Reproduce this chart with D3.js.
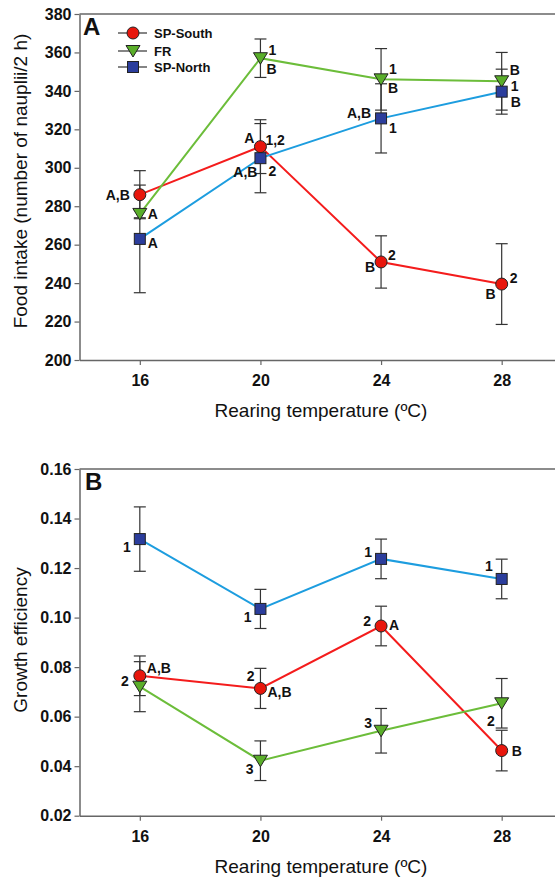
<!DOCTYPE html>
<html>
<head>
<meta charset="utf-8">
<script src="https://cdn.jsdelivr.net/npm/d3@7"></script>
<style>
  body { margin: 0; background: #fff; }
  svg { display: block; font-family: "Liberation Sans", Arial, sans-serif; }
</style>
</head>
<body>
<div id="chart"></div>
<script>
// Data
const temps = [16, 20, 24, 28];
const seriesNames = ["SP-South", "FR", "SP-North"];

// Panel A: food intake (number of nauplii / 2 h)
const intakeSouth   = [286, 311, 251, 239.5];
const intakeSouthSE = [12.5, 14, 13.6, 21];
const intakeFR      = [276, 357, 346, 345];
const intakeFRSE    = [2, 10, 16, 15];
const intakeNorth   = [263, 305, 325.7, 339.6];
const intakeNorthSE = [28, 18, 18, 11.7];
const intakeTicks   = [200, 220, 240, 260, 280, 300, 320, 340, 360, 380];

// Panel B: growth efficiency
const growthSouth   = [0.0765, 0.0714, 0.0966, 0.0463];
const growthSouthSE = [0.008, 0.0081, 0.008, 0.0082];
const growthFR      = [0.0721, 0.0422, 0.0543, 0.0654];
const growthFRSE    = [0.0101, 0.008, 0.009, 0.01];
const growthNorth   = [0.1317, 0.1035, 0.1237, 0.1156];
const growthNorthSE = [0.013, 0.0079, 0.008, 0.008];
const growthTicks   = [0.02, 0.04, 0.06, 0.08, 0.10, 0.12, 0.14, 0.16];

// significance letters: [series, temperature, text]
const notesA = [
  [0, 16, "A,B"], [1, 16, "A"], [2, 16, "A"],
  [0, 20, "A"], [0, 20, "1,2"], [1, 20, "1"], [1, 20, "B"], [2, 20, "A,B"], [2, 20, "2"],
  [1, 24, "1"], [1, 24, "B"], [2, 24, "A,B"], [2, 24, "1"], [0, 24, "2"], [0, 24, "B"],
  [1, 28, "B"], [1, 28, "1"], [2, 28, "B"], [0, 28, "2"], [0, 28, "B"]
];
const notesB = [
  [2, 16, "1"], [2, 20, "1"], [2, 24, "1"], [2, 28, "1"],
  [0, 16, "A,B"], [1, 16, "2"], [0, 20, "2"], [0, 20, "A,B"], [1, 20, "3"],
  [0, 24, "2"], [0, 24, "A"], [1, 24, "3"], [1, 28, "2"], [0, 28, "B"]
];

// label placement (anchor, dx, dy), same order as the notes
const placeA = [
  ["end", -10, 5], ["start", 8, 5], ["start", 8, 9],
  ["end", -6, -4], ["start", 5, -2], ["start", 8, -3], ["start", 6, 16], ["end", -3, 19], ["start", 8, 18],
  ["start", 8, -5], ["start", 7, 14], ["end", -10, 0], ["start", 8, 15], ["start", 7, -2], ["end", -6, 10],
  ["start", 8, -6], ["start", 9, 10], ["start", 9, 15], ["start", 8, -1], ["end", -6, 15]
];
const placeB = [
  ["end", -9, 13], ["end", -9, 13], ["end", -9, -2], ["end", -9, -8],
  ["start", 7, -3], ["end", -11, -1], ["end", -6, -7], ["start", 7, 9], ["end", -7, 13],
  ["end", -10, 0], ["start", 8, 4], ["end", -9, -3], ["end", -7, 23], ["start", 10, 5]
];

const lineColors = ["#f41c1c", "#6cbd3a", "#1d9ddf"];
const fillColors = ["#e8160c", "#5aae2a", "#2b3d9c"];
const W = 555, H = 877;

const svg = d3.select("#chart").append("svg")
  .attr("width", W).attr("height", H);

function marker(g, kind, x, y) {
  if (kind === 0) {
    g.append("circle").attr("cx", x).attr("cy", y).attr("r", 6)
      .attr("fill", fillColors[0]).attr("stroke", "#222").attr("stroke-width", 1);
  } else if (kind === 1) {
    g.append("path")
      .attr("d", `M${x - 7},${y - 5.5}L${x + 7},${y - 5.5}L${x},${y + 6}Z`)
      .attr("fill", fillColors[1]).attr("stroke", "#222").attr("stroke-width", 1);
  } else {
    g.append("rect").attr("x", x - 5.5).attr("y", y - 5.5).attr("width", 11).attr("height", 11)
      .attr("fill", fillColors[2]).attr("stroke", "#222").attr("stroke-width", 1);
  }
}

function panel(opts) {
  const x = d3.scaleLinear().domain([14, 30]).range([79.5, 562]);
  const y = d3.scaleLinear().domain(opts.domain).range([opts.bottom, opts.top]);
  const g = svg.append("g");

  // top frame line
  g.append("line").attr("x1", 79.5).attr("x2", W).attr("y1", opts.top).attr("y2", opts.top)
    .attr("stroke", "#666").attr("stroke-width", 1.5);

  const xAxis = g.append("g").attr("transform", `translate(0,${opts.bottom})`)
    .call(d3.axisBottom(x).tickValues(temps).tickSize(5).tickSizeOuter(0).tickPadding(10));
  const yAxis = g.append("g").attr("transform", "translate(79.5,0)")
    .call(d3.axisLeft(y).tickValues(opts.ticks).tickFormat(opts.fmt).tickSize(5).tickSizeOuter(0).tickPadding(3));
  [xAxis, yAxis].forEach(a => {
    a.select(".domain").attr("stroke", "#666").attr("stroke-width", 1.5);
    a.selectAll(".tick line").attr("stroke", "#666").attr("stroke-width", 1.2);
    a.selectAll("text").attr("fill", "#111").attr("font-size", 16).attr("font-weight", "bold")
      .attr("font-family", "Liberation Sans, Arial, sans-serif");
  });

  g.append("text").attr("x", 321).attr("y", opts.bottom + 57).attr("text-anchor", "middle")
    .attr("font-size", 19).attr("fill", "#111").text("Rearing temperature (ºC)");
  g.append("text").attr("transform", `translate(27,${opts.titleY}) rotate(-90)`)
    .attr("text-anchor", "middle").attr("font-size", 19).attr("fill", "#111").text(opts.title);

  g.append("text").attr("x", opts.letterX).attr("y", opts.top + 21)
    .attr("font-size", 24).attr("font-weight", "bold").attr("fill", "#111").text(opts.letter);

  // error bars
  opts.series.forEach((s) => {
    s.v.forEach((v, i) => {
      const cx = x(temps[i]), y0 = y(v - s.se[i]), y1 = y(v + s.se[i]);
      const eb = g.append("g").attr("stroke", "#333").attr("stroke-width", 1.2);
      eb.append("line").attr("x1", cx).attr("x2", cx).attr("y1", y0).attr("y2", y1);
      eb.append("line").attr("x1", cx - 6).attr("x2", cx + 6).attr("y1", y0).attr("y2", y0);
      eb.append("line").attr("x1", cx - 6).attr("x2", cx + 6).attr("y1", y1).attr("y2", y1);
    });
  });

  const line = d3.line().x((d, i) => x(temps[i])).y(d => y(d));
  opts.series.forEach((s, k) => {
    g.append("path").datum(s.v).attr("d", line).attr("fill", "none")
      .attr("stroke", lineColors[k]).attr("stroke-width", 2);
  });
  opts.series.forEach((s, k) => {
    s.v.forEach((v, i) => marker(g, k, x(temps[i]), y(v)));
  });

  opts.notes.forEach((n, i) => {
    const p = opts.place[i];
    const s = opts.series[n[0]];
    const ti = temps.indexOf(n[1]);
    g.append("text").attr("x", x(n[1]) + p[1]).attr("y", y(s.v[ti]) + p[2])
      .attr("text-anchor", p[0]).attr("font-size", 14).attr("font-weight", "bold")
      .attr("fill", "#111").text(n[2]);
  });
}

panel({
  domain: [200, 380], top: 14, bottom: 360, ticks: intakeTicks, fmt: d3.format("d"),
  title: "Food intake (number of nauplii/2 h)", titleY: 181, letter: "A", letterX: 83,
  series: [
    { v: intakeSouth, se: intakeSouthSE },
    { v: intakeFR, se: intakeFRSE },
    { v: intakeNorth, se: intakeNorthSE }
  ],
  notes: notesA, place: placeA
});

panel({
  domain: [0.02, 0.16], top: 469, bottom: 815.7, ticks: growthTicks, fmt: d3.format(".2f"),
  title: "Growth efficiency", titleY: 640, letter: "B", letterX: 85,
  series: [
    { v: growthSouth, se: growthSouthSE },
    { v: growthFR, se: growthFRSE },
    { v: growthNorth, se: growthNorthSE }
  ],
  notes: notesB, place: placeB
});

// legend (panel A)
const legend = svg.append("g");
seriesNames.forEach((name, k) => {
  const ly = [33, 51, 67][k];
  legend.append("line").attr("x1", 118).attr("x2", 147).attr("y1", ly).attr("y2", ly)
    .attr("stroke", "#333").attr("stroke-width", 1.2);
  marker(legend, k, 133, ly);
  legend.append("text").attr("x", 154).attr("y", ly + 4.5).attr("font-size", 13)
    .attr("font-weight", "bold").attr("fill", "#111").text(name);
});
</script>
</body>
</html>
